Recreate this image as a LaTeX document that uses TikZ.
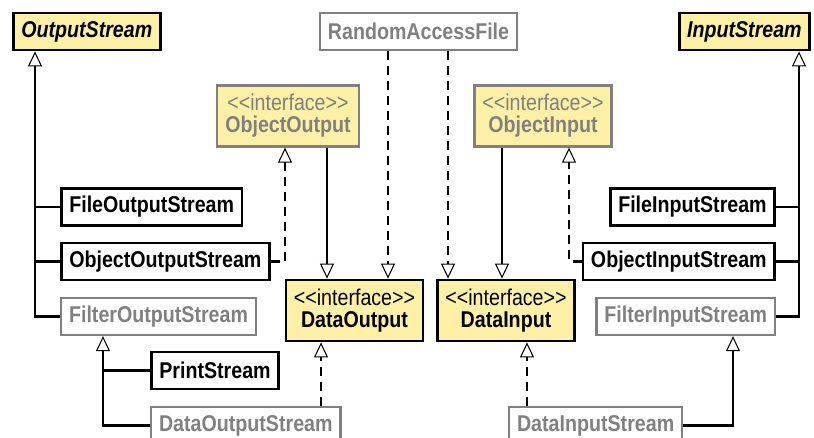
\documentclass[tikz,border=0pt]{standalone}
\usepackage{fontspec}
\setmainfont[FakeStretch=0.86]{Liberation Sans}
\usetikzlibrary{arrows.meta}
\definecolor{noteyellow}{RGB}{255,240,168}
\definecolor{umlgray}{RGB}{128,128,128}
\newcommand{\stereo}{\textmd{<{}<interface>{}>}}

\begin{document}
\begin{tikzpicture}[x=0.02cm, y=-0.02cm,
    cls/.style={draw=black, fill=white, line width=1.6pt, minimum height=0.74cm,
      inner xsep=4.5pt, inner ysep=0pt, font=\fontsize{13}{12.5}\selectfont\bfseries},
    grey/.style={cls, draw=umlgray, text=umlgray, line width=1.3pt},
    abstract/.style={cls, fill=noteyellow, font=\fontsize{13}{12.5}\selectfont\bfseries\itshape},
    iface/.style={cls, fill=noteyellow, align=center, minimum height=1.22cm},
    inh/.style={-{Triangle[open, fill=white, length=0.3cm, width=0.28cm, line width=0.6pt]}, line width=1.6pt},
    real/.style={inh, dash pattern=on 0.18cm off 0.12cm, line width=1.4pt},
    link/.style={line width=1.6pt}]
  \clip (0,0) rectangle (814,437);

  % Classes de base
  \node[abstract, anchor=west] (out) at (12,31.5) {OutputStream};
  \node[grey] (raf) at (418.5,31.5) {RandomAccessFile};
  \node[abstract, anchor=east] (in) at (811,31.5) {InputStream};

  % Interfaces
  \node[iface, draw=umlgray, text=umlgray, line width=1.3pt] (oo) at (288,116) {\stereo\\ObjectOutput};
  \node[iface, draw=umlgray, text=umlgray, line width=1.3pt] (oi) at (543,116) {\stereo\\ObjectInput};
  \node[iface] (do) at (354.5,310.5) {\stereo\\DataOutput};
  \node[iface] (di) at (506,310.5) {\stereo\\DataInput};

  % Flux de sortie
  \node[cls, anchor=west] (fos) at (60,207) {FileOutputStream};
  \node[cls, anchor=west] (oos) at (60,261.5) {ObjectOutputStream};
  \node[grey, anchor=west] (filos) at (60,316.5) {FilterOutputStream};
  \node[cls, anchor=west] (ps) at (150,370.5) {PrintStream};
  \node[grey, anchor=west] (dos) at (150,425.5) {DataOutputStream};

  % Flux d'entrée
  \node[cls, anchor=east] (fis) at (776,207) {FileInputStream};
  \node[cls, anchor=east] (ois) at (776,261.5) {ObjectInputStream};
  \node[grey, anchor=east] (filis) at (776,316.5) {FilterInputStream};
  \node[grey, anchor=west] (dis) at (508,425.5) {DataInputStream};

  % Colonnes des connecteurs
  \coordinate (outtrunk) at (35,0);
  \coordinate (filtout) at (103,0);
  \coordinate (objout) at (285,0);
  \coordinate (dosdo) at (321,0);
  \coordinate (oodo) at (327,0);
  \coordinate (rafdo) at (388,0);
  \coordinate (rafdi) at (448,0);
  \coordinate (oidi) at (502,0);
  \coordinate (disdi) at (527,0);
  \coordinate (objin) at (569,0);
  \coordinate (filtin) at (733,0);
  \coordinate (intrunk) at (799,0);

  % Héritage côté sortie
  \draw[inh] (filos.west) -| (outtrunk |- out.south);
  \draw[link] (fos.west) -- (fos.west -| outtrunk);
  \draw[link] (oos.west) -- (oos.west -| outtrunk);
  \draw[inh] (dos.west) -| (filtout |- filos.south);
  \draw[link] (ps.west) -- (ps.west -| filtout);

  % Héritage côté entrée
  \draw[inh] (filis.east) -| (intrunk |- in.south);
  \draw[link] (fis.east) -- (fis.east -| intrunk);
  \draw[link] (ois.east) -- (ois.east -| intrunk);
  \draw[inh] (dis.east) -| (filtin |- filis.south);

  % Interfaces
  \draw[inh, line width=1.1pt] (oodo |- oo.south) -- (oodo |- do.north);
  \draw[inh, line width=1.1pt] (oidi |- oi.south) -- (oidi |- di.north);
  \draw[real] (rafdo |- raf.south) -- (rafdo |- do.north);
  \draw[real] (rafdi |- raf.south) -- (rafdi |- di.north);
  \draw[real] (oos.east) -| (objout |- oo.south);
  \draw[real] (ois.west) -| (objin |- oi.south);
  \draw[real] (dosdo |- dos.north) -- (dosdo |- do.south);
  \draw[real] (disdi |- dis.north) -- (disdi |- di.south);
\end{tikzpicture}
\end{document}
